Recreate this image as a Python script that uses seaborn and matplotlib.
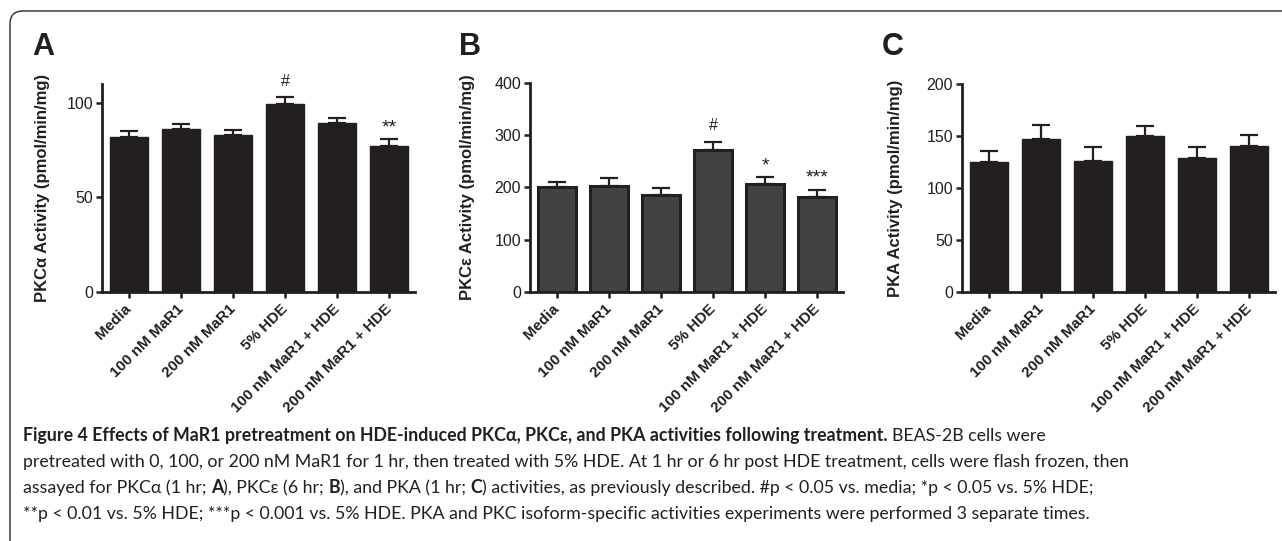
import numpy as np
import pandas as pd
import matplotlib
matplotlib.use("Agg")
import matplotlib.pyplot as plt
import seaborn as sns
from matplotlib.patches import FancyBboxPatch
from matplotlib.transforms import IdentityTransform

# data (mean and SEM per group)
groups = ["Media", "100 nM MaR1", "200 nM MaR1", "5% HDE",
          "100 nM MaR1 + HDE", "200 nM MaR1 + HDE"]

pkca_mean = [82, 86, 83, 99.3, 89.6, 77.4]
pkca_sem = [3, 3, 2.7, 4, 2.5, 3.5]
pkca_marks = ["", "", "", "#", "", "**"]

pkce_mean = [200.5, 203.5, 185.5, 272, 206.5, 181.5]
pkce_sem = [10, 14.5, 13.5, 16, 13.5, 14]
pkce_marks = ["", "", "", "#", "*", "***"]

pka_mean = [125, 147.5, 125.5, 150, 129, 140]
pka_sem = [11, 13, 14, 9.5, 10.5, 11]
pka_marks = ["", "", "", "", "", ""]

sns.set_theme(style="ticks")
plt.rcParams["font.family"] = ["Liberation Sans", "DejaVu Sans"]
INK = "#231f20"

W, H = 1282, 541
fig = plt.figure(figsize=(W / 100, H / 100), dpi=100)

# rounded frame, cropped at right and bottom
frame = FancyBboxPatch((10, -30), 1320, 560, boxstyle="round,pad=0,rounding_size=13",
                       transform=IdentityTransform(), fill=False, edgecolor="#3a3a3a",
                       linewidth=1.1)
fig.patches.append(frame)

panels = [
    # letter, ylabel, means, sems, marks, ymax, yticks, fill, axis x, top y, letter x, label right x
    ("A", "PKCα Activity (pmol/min/mg)", pkca_mean, pkca_sem, pkca_marks,
     110, [0, 50, 100], INK, 102, 84, 32, 50),
    ("B", "PKCε Activity (pmol/min/mg)", pkce_mean, pkce_sem, pkce_marks,
     400, [0, 100, 200, 300, 400], "#414244", 530, 83, 459, 475),
    ("C", "PKA Activity (pmol/min/mg)", pka_mean, pka_sem, pka_marks,
     200, [0, 50, 100, 150, 200], INK, 962, 84, 882, 903),
]

for letter, ylab, means, sems, marks, ymax, yticks, fill, ax_x, top_y, let_x, lab_x in panels:
    ax_w = 313
    ax = fig.add_axes([ax_x / W, (H - 292) / H, ax_w / W, (292 - top_y) / H])
    df = pd.DataFrame({"group": groups, "mean": means})
    sns.barplot(data=df, x="group", y="mean", color=fill, saturation=1,
                width=0.72, edgecolor=INK, linewidth=2.2 if fill != INK else 1.0,
                errorbar=None, ax=ax)
    xs = np.arange(len(groups))
    ax.errorbar(xs, means, yerr=[np.zeros(len(means)), sems], fmt="none",
                ecolor=INK, elinewidth=1.6, capsize=6.5, capthick=1.6, zorder=3)
    for x, m, s, mk in zip(xs, means, sems, marks):
        if mk:
            star = mk.startswith("*")
            ax.annotate(mk, (x, m + s), xytext=(0, 5 if star else 8),
                        textcoords="offset points", ha="center", va="baseline",
                        fontsize=14 if star else 11.5, color=INK,
                        annotation_clip=False)
    ax.set_xlim(-0.52, 5.5)
    ax.set_ylim(0, ymax)
    ax.set_yticks(yticks)
    ax.set_xticks(xs)
    ax.set_xticklabels(groups, rotation=45, ha="right", va="center",
                       rotation_mode="anchor", fontweight="bold", fontsize=11, color=INK)
    ax.tick_params(axis="y", labelsize=11.5, labelcolor=INK, length=4.5, width=1.8,
                   color=INK, pad=2)
    ax.tick_params(axis="x", length=4.5, width=1.8, color=INK, pad=6)
    ax.set_xlabel("")
    ax.set_ylabel(ylab, fontsize=12, fontweight="bold", color=INK)
    ax.yaxis.set_label_coords((lab_x - ax_x) / ax_w, 0.5)
    sns.despine(ax=ax)
    for sp in ("left", "bottom"):
        ax.spines[sp].set_linewidth(2.0)
        ax.spines[sp].set_color(INK)
    ax.patch.set_alpha(0)
    fig.text(let_x / W, 1 - 55 / H, letter, fontsize=22, fontweight="bold",
             color=INK, va="baseline")

# caption with mixed bold / regular runs
cap_font = ["Lato", "DejaVu Sans"]
renderer = fig.canvas.get_renderer()


def text_width(s, size, weight):
    t = fig.text(0, 0, s, fontsize=size, fontweight=weight, family=cap_font)
    w = t.get_window_extent(renderer).width
    t.remove()
    return w


def draw_runs(x, y, runs, size):
    space = text_width("x x", size, "normal") - text_width("xx", size, "normal")
    for s, weight in runs:
        t = fig.text(x / W, 1 - y / H, s.rstrip(), fontsize=size, fontweight=weight,
                     family=cap_font, color=INK, va="baseline")
        x += t.get_window_extent(renderer).width
        if s.endswith(" "):
            x += space


caption = [
    [("Figure 4 Effects of MaR1 pretreatment on HDE-induced PKCα, PKCε, and PKA "
      "activities following treatment. ", "bold"),
     ("BEAS-2B cells were", "normal")],
    [("pretreated with 0, 100, or 200 nM MaR1 for 1 hr, then treated with 5% HDE. "
      "At 1 hr or 6 hr post HDE treatment, cells were flash frozen, then", "normal")],
    [("assayed for PKCα (1 hr; ", "normal"), ("A", "bold"), ("), PKCε (6 hr; ", "normal"),
     ("B", "bold"), ("), and PKA (1 hr; ", "normal"), ("C", "bold"),
     (") activities, as previously described. #p < 0.05 vs. media; *p < 0.05 vs. 5% HDE;",
      "normal")],
    [("**p < 0.01 vs. 5% HDE; ***p < 0.001 vs. 5% HDE. PKA and PKC isoform-specific "
      "activities experiments were performed 3 separate times.", "normal")],
]

cap_size = 12 * 1097 / text_width(caption[1][0][0], 12, "normal")
for i, runs in enumerate(caption):
    draw_runs(23, 441 + i * 26.1, runs, cap_size)

fig.savefig("out.png", dpi=100)
